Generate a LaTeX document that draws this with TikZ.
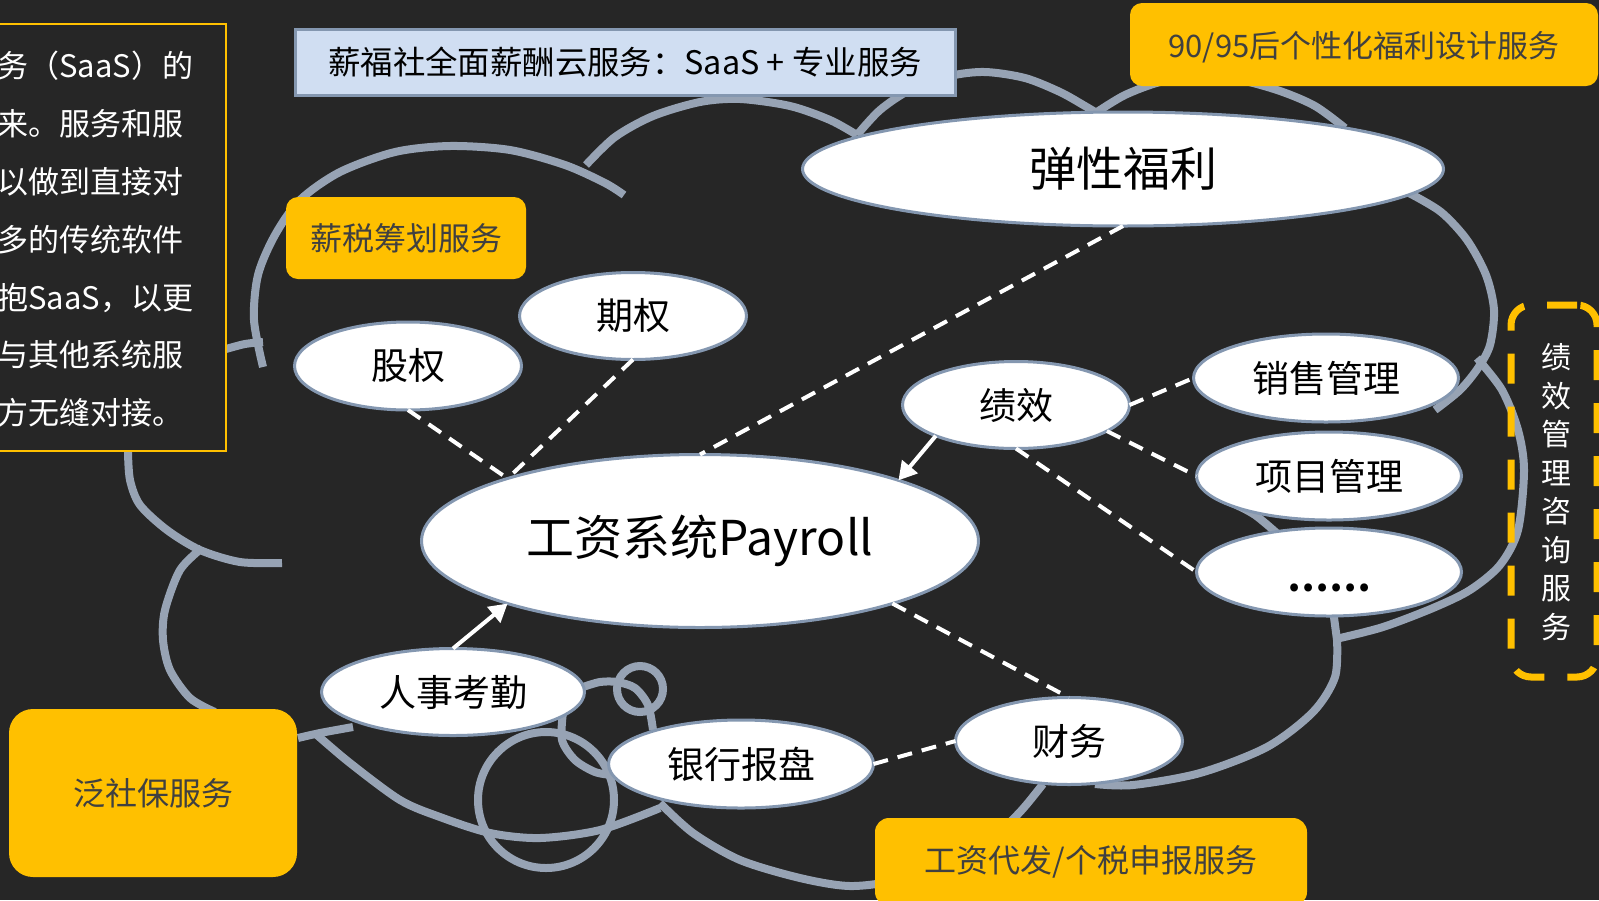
\documentclass[tikz,border=0pt]{standalone}
\usepackage{fontspec}
\setmainfont{Noto Sans CJK SC}
\usetikzlibrary{shapes.geometric,arrows.meta}
\definecolor{bg}{HTML}{262626}
\definecolor{cloudc}{HTML}{97A3B4}
\definecolor{eborder}{HTML}{8497B0}
\definecolor{gold}{HTML}{FFC000}
\definecolor{darktxt}{HTML}{404040}
\definecolor{titlefill}{HTML}{D0DEF2}
\tikzset{
  cloudline/.style={draw=cloudc, line width=4pt},
  bubble/.style={ellipse, draw=eborder, line width=1.5pt, fill=white, inner sep=0pt, outer sep=0pt, text=black, font=\fontsize{18.5pt}{22pt}\selectfont},
  ybox/.style={rectangle, rounded corners=6pt, fill=gold, text=darktxt, inner sep=0pt, font=\fontsize{16pt}{19pt}\selectfont},
  dlink/.style={draw=white, line width=2pt, dash pattern=on 7.5pt off 5pt},
  alink/.style={draw=white, line width=2pt, -{Triangle[length=9pt,width=10pt]}},
  lefttxt/.style={anchor=west, text=white, inner sep=0pt, font=\fontsize{15.5pt}{19pt}\selectfont},
}
\begin{document}
\begin{tikzpicture}[x=0.5pt,y=-0.5pt]
\useasboundingbox (0,0) rectangle (1599,900);
\fill[bg] (0,0) rectangle (1599,900);

% cloud outline pieces
\draw[cloudline] plot[smooth] coordinates {(263,367) (254,320) (258,275) (275,235) (300,200) (340,172) (395,152) (450,146) (510,150) (565,165) (605,183) (624,195)};
\draw[cloudline] plot[smooth] coordinates {(226,349) (245,344) (263,342)};
\draw[cloudline] plot[smooth] coordinates {(586,165) (615,137) (653,116) (700,102) (740,99) (790,106) (830,120) (857,135)};
\draw[cloudline] plot[smooth] coordinates {(857,135) (880,110) (910,90) (950,76) (985,72) (1025,78) (1060,92) (1085,106) (1100,115)};
\draw[cloudline] plot[smooth] coordinates {(1097,112) (1125,95) (1160,82) (1200,76) (1240,80) (1280,91) (1315,106) (1345,128)};
\draw[cloudline] plot[smooth] coordinates {(1409,193) (1441,212) (1467,240) (1486,275) (1494,310) (1490,345) (1478,368) (1460,390) (1435,410)};
\draw[cloudline] plot[smooth] coordinates {(1477,358) (1502,390) (1518,430) (1524,470) (1518,530) (1500,565) (1470,590) (1433,608) (1383,627) (1340,638)};
\draw[cloudline] plot[smooth] coordinates {(1333,610) (1337,640)};
\draw[cloudline] plot[smooth] coordinates {(1337,638) (1335,677) (1313,712) (1267,747) (1200,773) (1133,785) (1095,784)};
\draw[cloudline] plot[smooth] coordinates {(1225,500) (1255,515) (1290,545)};
\draw[cloudline] plot[smooth] coordinates {(1043,784) (1020,812) (990,840) (950,865) (900,880) (850,886) (800,878) (740,860) (693,833) (660,803)};
\draw[cloudline] plot[smooth] coordinates {(317,735) (350,763) (400,800) (440,817) (490,833) (540,838) (600,830) (660,808)};
\draw[cloudline] plot[smooth] coordinates {(128,452) (130,480) (140,505) (167,530) (200,550) (240,562) (282,563)};
\draw[cloudline] plot[smooth] coordinates {(202,548) (180,570) (165,610) (163,640) (170,670) (190,698) (215,712)};
\draw[cloudline] plot[smooth] coordinates {(298,738) (320,733) (353,727)};
\draw[cloudline] plot[smooth] coordinates {(583,687) (600,682) (617,682) (635,688) (648,705) (653,730)};
\draw[cloudline] plot[smooth] coordinates {(563,712) (562,740) (575,760) (595,772) (612,775)};
\draw[cloudline] (640,689) circle[radius=23];
\draw[cloudline] (546,800) circle[radius=68];

% left text box
\node[draw=gold, line width=1.2pt, fill=bg, minimum width=123pt, minimum height=213.5pt, inner sep=0pt] (leftbox) at (103,237.5) {};
\node[lefttxt] (l1) at (-3,66) {务（SaaS）的};
\node[lefttxt] (l2) at (-3,124) {来。服务和服};
\node[lefttxt] (l3) at (-3,182) {以做到直接对};
\node[lefttxt] (l4) at (-3,240) {多的传统软件};
\node[lefttxt] (l5) at (-3,298) {抱SaaS，以更};
\node[lefttxt] (l6) at (-3,355) {与其他系统服};
\node[lefttxt] (l7) at (-3,413) {方无缝对接。};

% title
\node[rectangle, draw=eborder, line width=1.5pt, fill=titlefill, minimum width=330pt, minimum height=33pt, inner sep=0pt, text=black, font=\fontsize{16.2pt}{19pt}\selectfont] (title) at (625,62) {薪福社全面薪酬云服务：SaaS + 专业服务};

% yellow boxes
\node[ybox, minimum width=234pt, minimum height=41.5pt, font=\fontsize{15.5pt}{18pt}\selectfont] (y9095) at (1364,44.5) {\raisebox{-1.5pt}[\height][\depth]{90/95后个性化福利设计服务}};
\node[ybox, minimum width=120pt, minimum height=41pt] (xinshui) at (406,238) {薪税筹划服务};
\node[ybox, rounded corners=12pt, minimum width=144pt, minimum height=84pt] (fanshebao) at (153,793) {泛社保服务};
\node[ybox, rounded corners=7pt, minimum width=216pt, minimum height=44pt] (daifa) at (1091,862) {工资代发/个税申报服务};

% dashed box
\node[draw=gold, line width=3.5pt, dash pattern=on 15pt off 11.5pt, rounded corners=10pt, minimum width=43pt, minimum height=186pt, inner sep=0pt] (jxbox) at (1554,491) {};
\node[text=white, align=center, inner sep=0pt, font=\fontsize{15pt}{19.25pt}\selectfont] (jxtext) at (1556,492) {绩\\效\\管\\理\\咨\\询\\服\\务};

% ellipses
\node[bubble, minimum width=320.5pt, minimum height=57pt, font=\fontsize{23.5pt}{28pt}\selectfont] (tanxing) at (1123,169) {弹性福利};
\node[bubble, minimum width=113.5pt, minimum height=43.5pt] (qiquan) at (633,316) {期权};
\node[bubble, minimum width=113.5pt, minimum height=44pt] (guquan) at (408,366) {股权};
\node[bubble, minimum width=278.5pt, minimum height=86.5pt, font=\fontsize{24pt}{28pt}\selectfont] (payroll) at (700,541) {工资系统Payroll};
\node[bubble, minimum width=113.5pt, minimum height=43.5pt] (jixiao) at (1016,405) {绩效};
\node[bubble, minimum width=132.5pt, minimum height=44pt] (xiaoshou) at (1326,378) {销售管理};
\node[bubble, minimum width=132.5pt, minimum height=44pt] (xiangmu) at (1329,476) {项目管理};
\node[bubble, minimum width=132.5pt, minimum height=44pt] (more) at (1329,572) {\raisebox{-8pt}[\height][\depth]{\textbf{……}}};
\node[bubble, minimum width=131.5pt, minimum height=43.5pt] (renshi) at (453,692) {人事考勤};
\node[bubble, minimum width=132.5pt, minimum height=44pt] (yinhang) at (741,764) {银行报盘};
\node[bubble, minimum width=113.5pt, minimum height=43.5pt] (caiwu) at (1069,741) {财务};

% connectors
\draw[dlink] (tanxing.south) -- (payroll.north);
\draw[dlink] (guquan.south) -- (payroll.162);
\draw[dlink] (qiquan.south) -- (payroll.162);
\draw[dlink] (jixiao.east) -- (xiaoshou.west);
\draw[dlink] (jixiao.-16) -- (xiangmu.west);
\draw[dlink] (jixiao.south) -- (more.west);
\draw[dlink] (payroll.-18) -- (caiwu.north);
\draw[dlink] (yinhang.east) -- (caiwu.west);
\draw[alink] (jixiao.201) -- (payroll.17);
\draw[alink] (renshi.north) -- (payroll.198);
\end{tikzpicture}
\end{document}
